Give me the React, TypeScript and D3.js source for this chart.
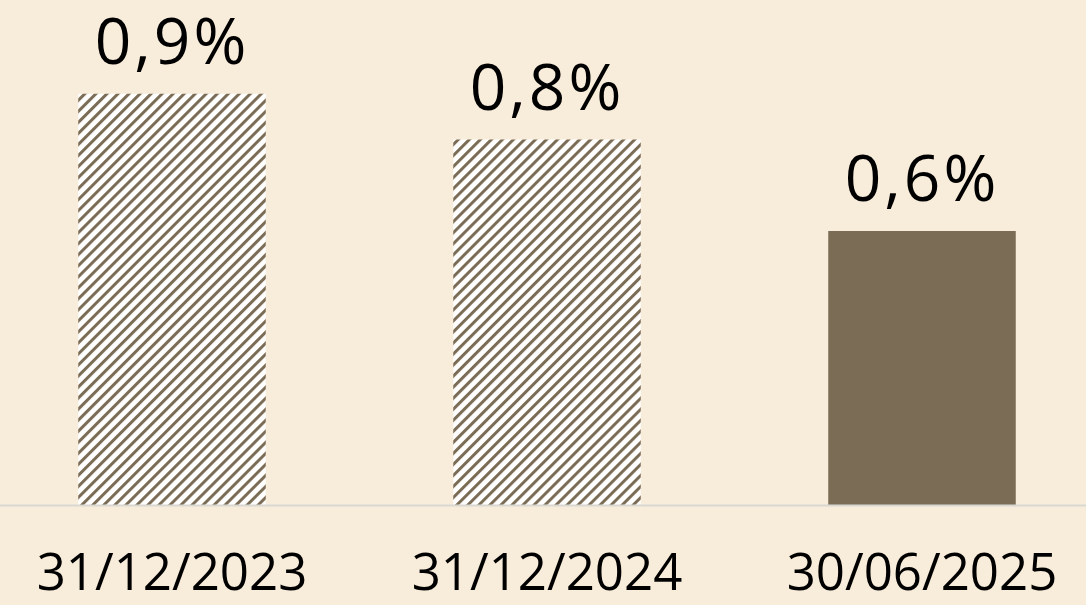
import React from "react";
import * as d3 from "d3";

const categories: string[] = ["31/12/2023", "31/12/2024", "30/06/2025"];
const values: number[] = [0.9, 0.8, 0.6];
const labels: string[] = ["0,9%", "0,8%", "0,6%"];
const hatched: boolean[] = [true, true, false];

const W = 1086;
const H = 605;
const BG = "#F8ECDA";
const BAR = "#7B6C55";

export default function App() {
  const x = d3
    .scaleBand<string>()
    .domain(categories)
    .range([-15.5, 1109.5])
    .paddingInner(0.5)
    .paddingOuter(0.25);
  const baseY = 505.5;
  const y = d3.scaleLinear().domain([0, 1]).range([baseY, baseY - 457.5]);

  return (
    <div style={{ position: "absolute", left: 0, top: 0 }}>
      <svg width={W} height={H} style={{ display: "block" }}>
        <defs>
          <pattern
            id="hatch"
            patternUnits="userSpaceOnUse"
            width={7.8}
            height={7.8}
            patternTransform="rotate(45)"
          >
            <rect width={7.8} height={7.8} fill="#ffffff" />
            <rect x={0} y={0} width={3} height={7.8} fill={BAR} />
          </pattern>
        </defs>
        <rect width={W} height={H} fill={BG} />
        {categories.map((c, i) => (
          <rect
            key={c}
            x={x(c)}
            y={y(values[i])}
            width={x.bandwidth()}
            height={baseY - y(values[i])}
            fill={hatched[i] ? "url(#hatch)" : BAR}
          />
        ))}
        <line x1={0} x2={W} y1={baseY} y2={baseY} stroke="#D9D7D2" strokeWidth={2} />
        {categories.map((c, i) => (
          <text
            key={"v" + c}
            x={(x(c) as number) + x.bandwidth() / 2}
            y={y(values[i]) - 30}
            textAnchor="middle"
            fontFamily="'Open Sans', sans-serif"
            fontSize={64}
            letterSpacing={3}
            fill="#000"
          >
            {labels[i]}
          </text>
        ))}
        {categories.map((c) => (
          <text
            key={"c" + c}
            x={(x(c) as number) + x.bandwidth() / 2}
            y={590}
            textAnchor="middle"
            fontFamily="'Open Sans', sans-serif"
            fontSize={51}
            fill="#000"
          >
            {c}
          </text>
        ))}
      </svg>
    </div>
  );
}
